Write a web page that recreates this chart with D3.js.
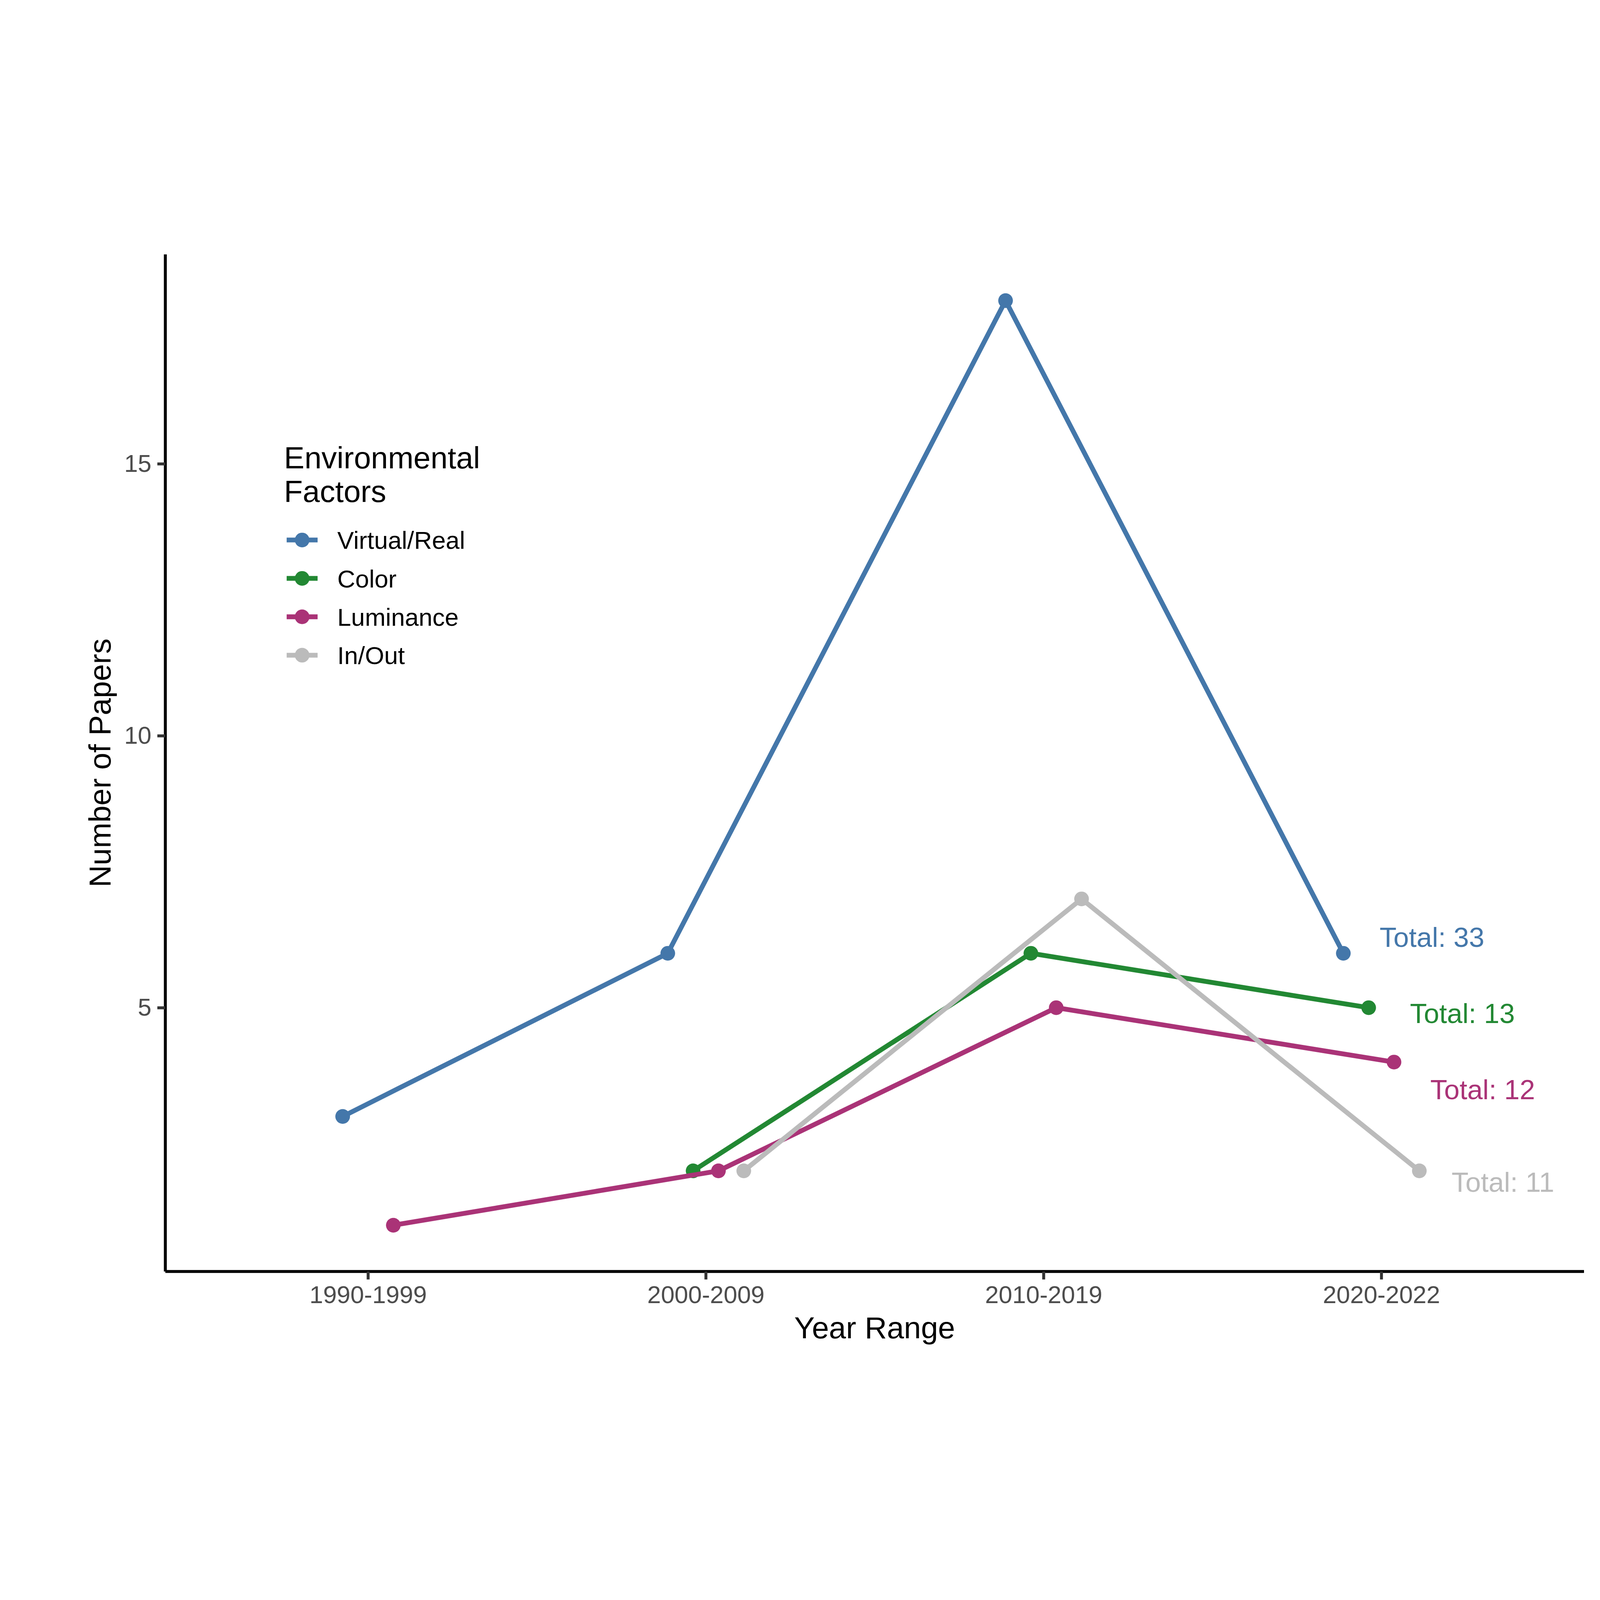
<!DOCTYPE html>
<html>
<head>
<meta charset="utf-8">
<script src="https://cdn.jsdelivr.net/npm/d3@7"></script>
<style>
    html, body { margin: 0; padding: 0; width: 100%; height: 100%; overflow: hidden; background: #fff; }
    #chart { width: 100vw; height: 100vh; }
    svg { display: block; font-family: "Liberation Sans", Arial, sans-serif; }
</style>
</head>
<body>
<div id="chart"></div>
<script>
/*global d3*/
"use strict";

var categories = ["1990-1999", "2000-2009", "2010-2019", "2020-2022"];
var seriesNames = ["Virtual/Real", "Color", "Luminance", "In/Out"];
var virtualReal = [3, 6, 18, 6];
var colorPapers = [null, 2, 6, 5];
var luminance = [1, 2, 5, 4];
var inOut = [null, 2, 7, 2];
var yTicks = [5, 10, 15];
// where the "Total" labels ended up (label y value, shift in category steps past the last category)
var labelY = [6.3, 4.9, 3.5, 1.8];
var labelShift = [0.15, 0.24, 0.30, 0.36];

var palette = ["#4477AA", "#228833", "#AA3377", "#BBBBBB"];

function drawChart() {
    var width = 6000;
    var height = 4200;
    var panel = { left: 620, right: 5940, top: 54, bottom: 3868 };
    var allSeries = [virtualReal, colorPapers, luminance, inOut];
    var dodgeWidth = 0.3;

    var series = seriesNames.map(function (name, i) {
        return {
            name: name,
            color: palette[i],
            total: d3.sum(allSeries[i]),
            values: allSeries[i]
        };
    });

    // dodge offsets: groups present at each category share the dodge width
    var points = [];
    categories.forEach(function (cat, c) {
        var present = series.filter(function (s) {
            return s.values[c] !== null;
        });
        present.forEach(function (s, k) {
            var slot = dodgeWidth / present.length;
            points.push({
                series: s.name,
                color: s.color,
                cat: cat,
                offset: -dodgeWidth / 2 + slot * (k + 0.5),
                value: s.values[c]
            });
        });
    });
    series.forEach(function (s) {
        s.points = points.filter(function (p) {
            return p.series === s.name;
        });
    });

    var allValues = points.map(function (p) { return p.value; });
    var yMin = d3.min(allValues);
    var yMax = d3.max(allValues);
    var pad = (yMax - yMin) * 0.05;

    var x = d3.scalePoint().domain(categories).range([panel.left, panel.right]).padding(0.6);
    var y = d3.scaleLinear().domain([yMin - pad, yMax + pad]).range([panel.bottom, panel.top]);
    var step = x.step();

    function px(d) {
        return x(d.cat) + d.offset * step;
    }

    // viewBox so the whole 6000x4200 drawing fits whatever the window is
    var svg = d3.select("#chart").append("svg")
        .attr("viewBox", "0 0 " + width + " " + height)
        .attr("width", "100%")
        .attr("height", "100%");

    svg.append("rect").attr("width", width).attr("height", height).attr("fill", "#fff");

    // axes
    var yAxis = svg.append("g")
        .attr("transform", "translate(" + panel.left + ",0)")
        .call(d3.axisLeft(y).tickValues(yTicks).tickSize(30).tickSizeOuter(0).tickPadding(22));
    var xAxis = svg.append("g")
        .attr("transform", "translate(0," + panel.bottom + ")")
        .call(d3.axisBottom(x).tickSize(30).tickSizeOuter(0).tickPadding(24));

    [xAxis, yAxis].forEach(function (ax) {
        ax.select(".domain").attr("stroke", "#000").attr("stroke-width", 11);
        ax.selectAll(".tick line").attr("stroke", "#333333").attr("stroke-width", 11);
        ax.selectAll(".tick text")
            .attr("fill", "#4D4D4D")
            .style("font-size", "92px")
            .style("font-family", "'Liberation Sans', Arial, sans-serif");
    });
    // full panel extent for the axis lines
    yAxis.select(".domain").attr("d", "M0," + panel.bottom + "V" + panel.top);
    xAxis.select(".domain").attr("d", "M" + panel.left + ",0H" + panel.right);

    // axis titles
    svg.append("text")
        .attr("x", (panel.left + panel.right) / 2)
        .attr("y", 4119)
        .attr("text-anchor", "middle")
        .style("font-size", "115px")
        .attr("fill", "#000")
        .text("Year Range");
    svg.append("text")
        .attr("transform", "translate(414," + (panel.top + panel.bottom) / 2 + ") rotate(-90)")
        .attr("text-anchor", "middle")
        .style("font-size", "115px")
        .attr("fill", "#000")
        .text("Number of Papers");

    var plot = svg.append("g");

    // points first, lines drawn over them
    plot.selectAll(".dot")
        .data(points)
        .enter()
        .append("circle")
        .attr("class", "dot")
        .attr("cx", px)
        .attr("cy", function (d) { return y(d.value); })
        .attr("r", 27.5)
        .attr("fill", function (d) { return d.color; });

    var line = d3.line()
        .x(px)
        .y(function (d) { return y(d.value); });

    plot.selectAll(".line")
        .data(series)
        .enter()
        .append("path")
        .attr("class", "line")
        .attr("d", function (d) { return line(d.points); })
        .attr("fill", "none")
        .attr("stroke", function (d) { return d.color; })
        .attr("stroke-width", 18)
        .attr("stroke-linejoin", "round");

    // total labels
    var lastCat = categories[categories.length - 1];
    plot.selectAll(".total")
        .data(series)
        .enter()
        .append("text")
        .attr("class", "total")
        .attr("x", function (d, i) { return x(lastCat) + labelShift[i] * step; })
        .attr("y", function (d, i) { return y(labelY[i]); })
        .attr("dy", "0.36em")
        .attr("text-anchor", "middle")
        .style("font-size", "104px")
        .attr("fill", function (d) { return d.color; })
        .text(function (d) { return "Total: " + d.total; });

    // legend
    var legend = svg.append("g").attr("transform", "translate(1065,0)");
    legend.append("text")
        .attr("y", 857)
        .style("font-size", "115px")
        .attr("fill", "#000")
        .text("Environmental");
    legend.append("text")
        .attr("y", 982)
        .style("font-size", "115px")
        .attr("fill", "#000")
        .text("Factors");

    var key = legend.selectAll(".key")
        .data(series)
        .enter()
        .append("g")
        .attr("class", "key")
        .attr("transform", function (d, i) {
            return "translate(0," + (1125 + i * 144) + ")";
        });
    key.append("line")
        .attr("x1", 10)
        .attr("x2", 126)
        .attr("stroke", function (d) { return d.color; })
        .attr("stroke-width", 18);
    key.append("circle")
        .attr("cx", 68)
        .attr("r", 27.5)
        .attr("fill", function (d) { return d.color; });
    key.append("text")
        .attr("x", 200)
        .attr("dy", "0.36em")
        .style("font-size", "93px")
        .attr("fill", "#000")
        .text(function (d) { return d.name; });
}

drawChart();
</script>
</body>
</html>
